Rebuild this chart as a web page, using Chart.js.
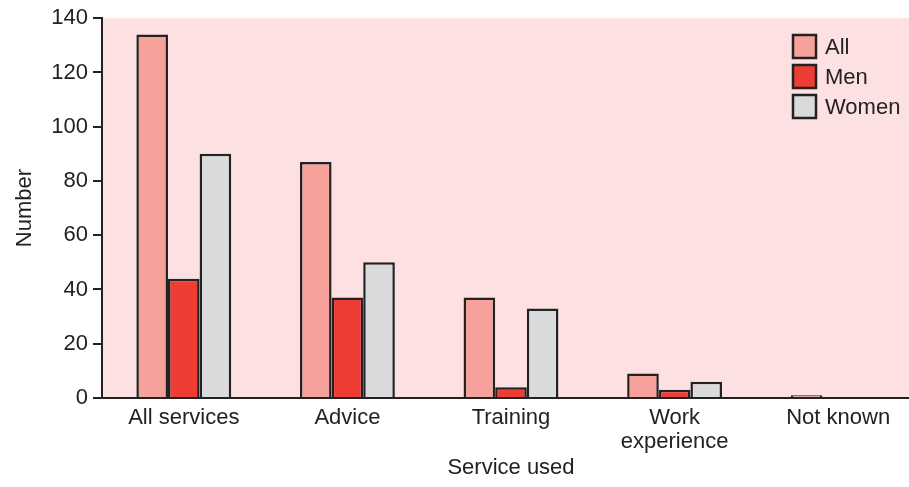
<!DOCTYPE html>
<html>
<head>
<meta charset="utf-8">
<script src="https://cdn.jsdelivr.net/npm/chart.js@4/dist/chart.umd.min.js"></script>
<style>
  html, body { margin: 0; padding: 0; background: #fff; overflow: hidden; }
  /* the panel runs past the right edge of the picture */
  #wrap { width: 920px; height: 487px; }
</style>
</head>
<body>
<div id="wrap"><canvas id="chart"></canvas></div>
<script>
var categories = ['All services', 'Advice', 'Training', ['Work', 'experience'], 'Not known'];
var allValues = [134, 87, 37, 9, 1];
var menValues = [44, 37, 4, 3, 0];
var womenValues = [90, 50, 33, 6, 0];
var yTicks = [0, 20, 40, 60, 80, 100, 120, 140];

var ink = '#222';
var font = { family: 'Liberation Sans, Arial, sans-serif', size: 22 };
var tickFont = { family: 'Liberation Sans, Arial, sans-serif', size: 22, lineHeight: 1.1 };

// pink panel behind the bars
var panelBg = {
  id: 'panelBg',
  beforeDraw: function(chart) {
    var a = chart.chartArea, ctx = chart.ctx;
    ctx.save();
    ctx.fillStyle = '#fde1e2';
    ctx.fillRect(a.left, a.top, a.right - a.left, a.bottom - a.top);
    ctx.restore();
  }
};

// legend boxes in the top right of the panel
var boxLegend = {
  id: 'boxLegend',
  afterDraw: function(chart) {
    var ctx = chart.ctx;
    var x = 793, y = 35;
    ctx.save();
    ctx.font = font.size + 'px ' + font.family;
    ctx.textBaseline = 'middle';
    chart.data.datasets.forEach(function(ds, i) {
      var by = y + i * 30;
      ctx.fillStyle = ds.backgroundColor;
      ctx.fillRect(x, by, 23, 23);
      ctx.lineWidth = 2.5;
      ctx.strokeStyle = ink;
      ctx.strokeRect(x, by, 23, 23);
      ctx.fillStyle = ink;
      ctx.fillText(ds.label, x + 32, by + 13);
    });
    ctx.restore();
  }
};

new Chart(document.getElementById('chart'), {
  type: 'bar',
  data: {
    labels: categories,
    datasets: [
      { label: 'All', data: allValues, backgroundColor: '#f6a29a', borderColor: ink, borderWidth: 2.5 },
      { label: 'Men', data: menValues, backgroundColor: '#ee3d35', borderColor: ink, borderWidth: 2.5 },
      { label: 'Women', data: womenValues, backgroundColor: '#d9dadc', borderColor: ink, borderWidth: 2.5 }
    ]
  },
  options: {
    responsive: true,
    maintainAspectRatio: false,
    animation: false,
    categoryPercentage: 0.58,
    barPercentage: 1,
    layout: { padding: { top: 18, right: 0, left: 4, bottom: 0 } },
    plugins: {
      legend: { display: false },
      tooltip: { enabled: false }
    },
    scales: {
      x: {
        afterFit: function(axis) { axis.height = 89; },
        grid: { display: false },
        border: { color: ink, width: 2 },
        ticks: { color: ink, font: tickFont, padding: 0, maxRotation: 0 },
        title: { display: true, text: 'Service used', color: ink, font: font, padding: { top: 0, bottom: 6 } }
      },
      y: {
        min: 0,
        max: 140,
        afterFit: function(axis) { axis.width = 98; },
        afterBuildTicks: function(axis) {
          axis.ticks = yTicks.map(function(v) { return { value: v }; });
        },
        grid: { drawOnChartArea: false, drawTicks: true, tickLength: 9, color: ink, lineWidth: 2 },
        border: { color: ink, width: 2 },
        ticks: { color: ink, font: font, padding: 5 },
        title: { display: true, text: 'Number', color: ink, font: font, padding: { top: 8 } }
      }
    }
  },
  plugins: [panelBg, boxLegend]
});
</script>
</body>
</html>
